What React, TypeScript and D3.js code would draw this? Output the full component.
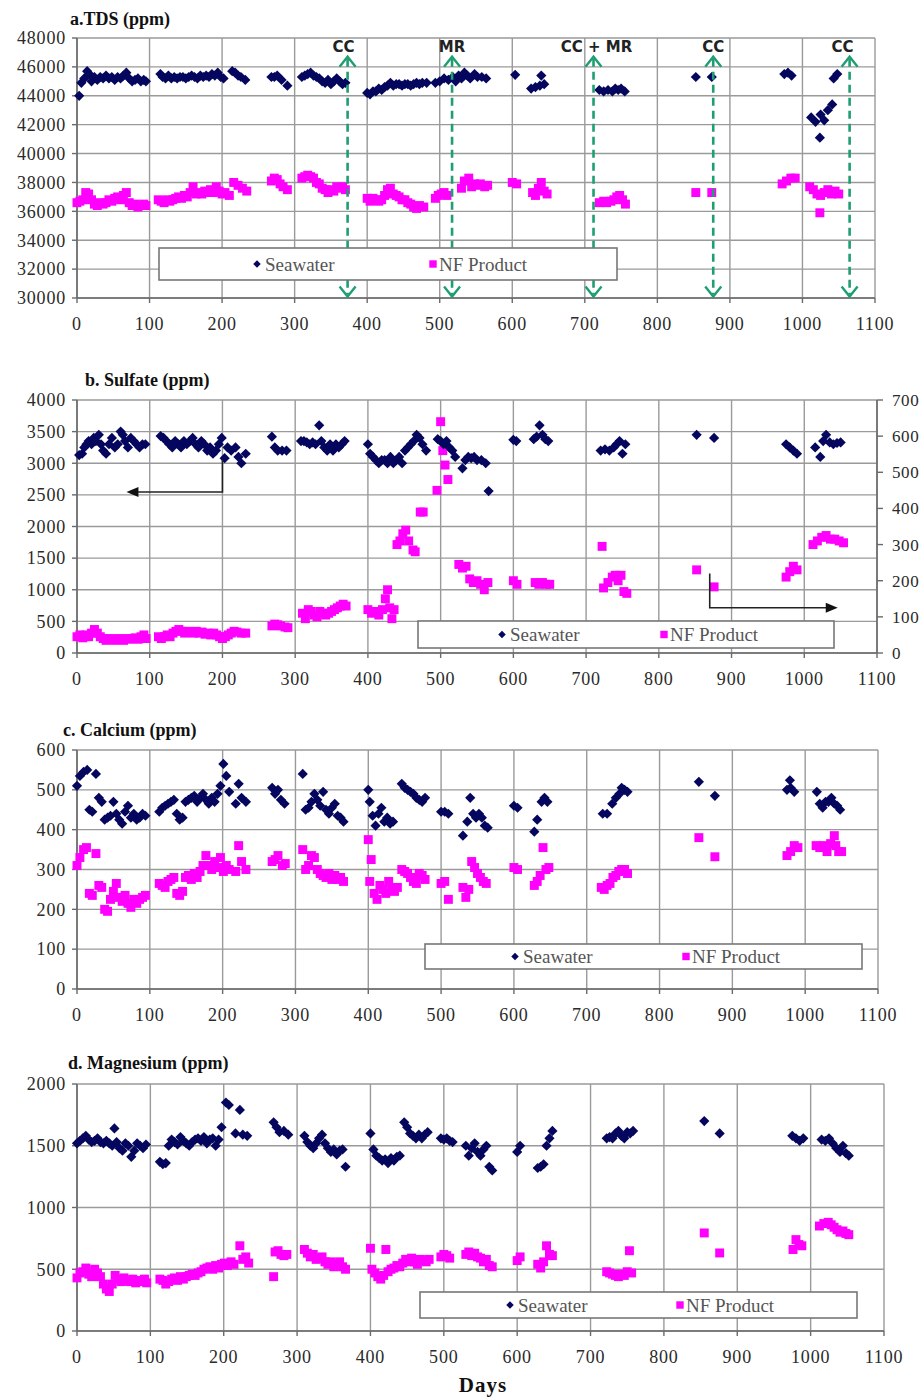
import React from "react";
import * as d3 from "d3";

// ---------- shared ----------
const dayTicks = [0, 100, 200, 300, 400, 500, 600, 700, 800, 900, 1000, 1100];
const seriesNames = ["Seawater", "NF Product"];

// ---------- a. TDS (ppm) ----------
const tdsSeawater: [number, number][] = [
  [3, 44000], [6, 44900], [10, 45200], [14, 45700], [17, 45500], [20, 45000], [24, 45300], [28, 45100],
  [32, 45300], [36, 45200], [40, 45400], [44, 45200], [48, 45300], [52, 45100], [56, 45300], [60, 45200],
  [64, 45400], [68, 45600], [72, 45200], [76, 45000], [80, 45100], [84, 45200], [88, 45000], [92, 45100], [95, 45000],
  [115, 45500], [118, 45300], [122, 45200], [126, 45400], [130, 45200], [134, 45300], [138, 45200], [142, 45300],
  [146, 45300], [150, 45200], [154, 45300], [158, 45400], [162, 45300], [166, 45200], [170, 45400], [174, 45300],
  [178, 45400], [182, 45300], [186, 45500], [190, 45400], [194, 45600], [198, 45300], [202, 45200], [214, 45700],
  [218, 45600], [222, 45400], [226, 45300], [232, 45100],
  [268, 45300], [272, 45300], [276, 45400], [282, 45100], [290, 44700],
  [310, 45300], [314, 45400], [318, 45500], [322, 45600], [326, 45400], [330, 45300], [334, 45200], [338, 45000],
  [342, 44900], [346, 45100], [350, 44800], [354, 45000], [358, 45200], [362, 45000], [366, 44800], [370, 44900],
  [400, 44200], [404, 44100], [408, 44300], [412, 44300], [416, 44500], [420, 44400], [424, 44600], [428, 44700],
  [432, 44900], [436, 44700], [440, 44800], [444, 44800], [448, 44700], [452, 44800], [456, 44800], [460, 44700],
  [464, 44800], [468, 44900], [472, 44800], [476, 44900], [482, 44900],
  [494, 44900], [500, 45000], [506, 45200], [512, 45100], [518, 45300], [522, 45000], [526, 45400], [530, 45200],
  [534, 45600], [538, 45400], [542, 45200], [548, 45500], [552, 45300], [558, 45300], [564, 45200],
  [604, 45450], [626, 44500], [632, 44600], [638, 44700], [644, 44800], [640, 45400],
  [720, 44400], [726, 44300], [732, 44400], [738, 44300], [742, 44500], [746, 44400], [750, 44500], [755, 44300],
  [853, 45300], [875, 45300],
  [975, 45500], [980, 45600], [985, 45400],
  [1012, 42500], [1018, 42200], [1024, 41100], [1025, 42700], [1030, 42300], [1035, 43000], [1041, 43400],
  [1043, 45200], [1048, 45500],
];
const tdsProduct: [number, number][] = [
  [0, 36600], [4, 36700], [8, 36800], [12, 37300], [16, 37200], [20, 36800], [24, 36500], [28, 36400],
  [32, 36600], [36, 36500], [40, 36600], [44, 36800], [48, 36700], [52, 36900], [56, 37000], [60, 36800],
  [64, 37100], [68, 37300], [72, 36600], [76, 36400], [80, 36500], [84, 36300], [88, 36400], [92, 36500], [95, 36400],
  [112, 36800], [116, 36700], [120, 36600], [124, 36800], [128, 36700], [132, 36800], [136, 36900], [140, 37000],
  [144, 36900], [148, 37100], [152, 37000], [156, 37300], [160, 37700], [164, 37200], [168, 37300], [172, 37200],
  [176, 37400], [180, 37300], [184, 37500], [188, 37300], [192, 37700], [196, 37400], [200, 37200], [204, 37300],
  [210, 37100], [216, 38000], [222, 37800], [228, 37600], [234, 37400],
  [268, 38100], [272, 38300], [276, 38200], [280, 37900], [284, 37700], [290, 37500],
  [310, 38300], [314, 38400], [318, 38500], [322, 38400], [326, 38300], [330, 38000], [334, 37900], [338, 37600],
  [342, 37500], [346, 37300], [350, 37500], [354, 37400], [358, 37700], [362, 37600], [366, 37700], [370, 37500],
  [400, 36900], [404, 36700], [408, 36900], [412, 36800], [416, 36700], [420, 36800], [424, 37100], [428, 37500],
  [432, 37600], [436, 37200], [440, 37100], [444, 37000], [448, 36800], [452, 36800], [456, 36600], [460, 36500],
  [464, 36300], [468, 36200], [472, 36400], [478, 36300],
  [494, 36900], [498, 37100], [502, 37200], [506, 37300], [510, 37100],
  [530, 37600], [534, 38100], [540, 38300], [544, 37700], [548, 37900], [552, 37800], [556, 37900], [562, 37700], [566, 37800],
  [600, 38000], [606, 37900],
  [628, 37300], [632, 37100], [636, 37600], [640, 38000], [644, 37400], [648, 37200],
  [720, 36600], [726, 36700], [730, 36600], [736, 36700], [740, 36800], [744, 37000], [748, 37100], [752, 36800], [756, 36500],
  [853, 37300], [875, 37300],
  [972, 37900], [978, 38100], [984, 38300], [990, 38300],
  [1010, 37700], [1015, 37500], [1020, 37200], [1024, 35900], [1025, 37100], [1030, 37300], [1035, 37500],
  [1040, 37200], [1045, 37400], [1050, 37200],
];
const tdsEventDays = [373, 517, 712, 877, 1065];
const tdsEventLabels = ["CC", "MR", "CC + MR", "CC", "CC"];

// ---------- b. Sulfate (ppm) ----------
const so4Seawater: [number, number][] = [
  [3, 3130], [7, 3150], [10, 3250], [13, 3300], [16, 3350], [20, 3300], [23, 3400], [26, 3350], [30, 3450],
  [33, 3300], [36, 3200], [40, 3150], [44, 3300], [48, 3400], [52, 3250], [56, 3300], [60, 3500], [63, 3450],
  [66, 3350], [70, 3250], [74, 3400], [78, 3350], [82, 3300], [86, 3250], [90, 3300], [94, 3300],
  [115, 3430], [119, 3400], [123, 3350], [127, 3300], [131, 3250], [135, 3350], [139, 3300], [143, 3250],
  [147, 3350], [151, 3300], [155, 3350], [159, 3400], [163, 3300], [167, 3250], [171, 3350], [175, 3300],
  [179, 3200], [183, 3250], [187, 3150], [191, 3200], [195, 3300], [199, 3400], [203, 3080], [207, 3250],
  [212, 3200], [218, 3250], [222, 3100], [226, 3000], [232, 3150],
  [268, 3420], [272, 3250], [276, 3200], [282, 3200], [288, 3200],
  [308, 3350], [312, 3350], [316, 3330], [320, 3300], [324, 3330], [328, 3300], [333, 3600], [336, 3350],
  [340, 3250], [344, 3200], [348, 3300], [352, 3200], [356, 3300], [360, 3250], [364, 3300], [368, 3350],
  [400, 3300], [403, 3150], [407, 3100], [411, 3050], [415, 3000], [419, 3050], [423, 3050], [427, 3000],
  [431, 3100], [435, 3000], [439, 3050], [443, 3100], [447, 3000], [451, 3200], [455, 3250], [459, 3300],
  [463, 3350], [467, 3450], [471, 3400], [475, 3300], [480, 3200],
  [496, 3380], [500, 3350], [504, 3300], [508, 3350], [512, 3250], [516, 3200], [520, 3100], [530, 2920],
  [534, 3050], [538, 3100], [542, 3080], [546, 3100], [550, 3050], [556, 3050], [562, 3000], [566, 2560],
  [600, 3370], [604, 3350],
  [628, 3380], [632, 3420], [636, 3600], [640, 3450], [644, 3380], [648, 3350],
  [720, 3200], [726, 3220], [732, 3200], [738, 3250], [742, 3300], [746, 3350], [750, 3150], [754, 3300],
  [852, 3450], [876, 3400],
  [975, 3300], [980, 3250], [985, 3200], [990, 3150],
  [1015, 3250], [1022, 3100], [1026, 3350], [1030, 3450], [1035, 3330], [1040, 3300], [1045, 3320], [1050, 3330],
];
// NF product sulfate is read on the secondary (right) axis, 0-700 ppm
const so4Product: [number, number][] = [
  [0, 45], [4, 50], [8, 42], [12, 50], [16, 45], [20, 55], [24, 65], [28, 55], [32, 45], [36, 40], [40, 35],
  [44, 40], [48, 38], [52, 35], [56, 40], [60, 38], [64, 35], [68, 40], [72, 38], [76, 40], [80, 42], [84, 38],
  [88, 45], [92, 50], [95, 40],
  [112, 45], [116, 40], [120, 45], [124, 50], [128, 45], [132, 55], [136, 60], [140, 65], [144, 60], [148, 55],
  [152, 60], [156, 58], [160, 55], [164, 60], [168, 55], [172, 58], [176, 52], [180, 55], [184, 50], [188, 55],
  [192, 50], [196, 45], [200, 40], [204, 45], [208, 50], [212, 55], [216, 60], [220, 58], [226, 55], [232, 55],
  [268, 75], [272, 80], [276, 78], [280, 75], [286, 72], [290, 70],
  [310, 110], [314, 95], [318, 120], [322, 115], [326, 105], [330, 100], [334, 115], [338, 110], [342, 105],
  [346, 110], [350, 115], [354, 120], [358, 125], [362, 130], [366, 135], [370, 130],
  [400, 120], [405, 110], [410, 115], [415, 105], [420, 120], [424, 150], [427, 175], [430, 125], [433, 95],
  [436, 120], [440, 300], [444, 310], [448, 330], [452, 340], [456, 310], [462, 285], [465, 280], [472, 390], [476, 390],
  [495, 450], [500, 640], [503, 560], [506, 520], [510, 480],
  [525, 245], [530, 235], [535, 240], [540, 205], [545, 195], [550, 200], [555, 190], [560, 175], [565, 195],
  [600, 200], [605, 190],
  [630, 195], [635, 190], [640, 195], [645, 190], [650, 190],
  [722, 295], [724, 180], [730, 195], [736, 210], [740, 215], [744, 200], [748, 215], [752, 170], [756, 165],
  [852, 230], [876, 183],
  [975, 210], [980, 225], [985, 240], [990, 230],
  [1012, 300], [1018, 310], [1024, 320], [1030, 325], [1036, 315], [1042, 315], [1048, 310], [1054, 305],
];

// ---------- c. Calcium (ppm) ----------
const caSeawater: [number, number][] = [
  [0, 510], [4, 535], [9, 545], [14, 550], [17, 450], [21, 445], [26, 540], [30, 480], [34, 470], [38, 425],
  [42, 430], [46, 435], [50, 470], [54, 440], [58, 425], [62, 415], [66, 445], [70, 460], [74, 430], [78, 440],
  [82, 425], [86, 430], [90, 440], [94, 435],
  [113, 445], [117, 455], [121, 460], [125, 465], [129, 470], [133, 475], [137, 440], [141, 425], [145, 430],
  [149, 470], [153, 475], [157, 480], [161, 485], [165, 470], [169, 480], [173, 490], [177, 475], [181, 465],
  [185, 480], [189, 470], [193, 490], [197, 510], [201, 565], [205, 535], [209, 495], [218, 465], [222, 515],
  [226, 480], [232, 470],
  [268, 505], [272, 490], [276, 500], [280, 475], [285, 465],
  [310, 540], [314, 450], [318, 455], [322, 470], [326, 490], [330, 475], [334, 460], [338, 495], [342, 450],
  [346, 440], [350, 455], [354, 465], [358, 435], [362, 430], [366, 420],
  [400, 500], [402, 470], [406, 435], [410, 410], [414, 440], [418, 455], [422, 420], [426, 430], [430, 415],
  [434, 420], [446, 515], [450, 505], [454, 500], [458, 495], [462, 490], [466, 480], [470, 475], [474, 470], [478, 480],
  [500, 445], [505, 445], [510, 440], [530, 385], [536, 420], [540, 480], [544, 440], [548, 430], [552, 440],
  [556, 430], [560, 410], [564, 405],
  [600, 460], [605, 455], [628, 395], [632, 425], [638, 470], [642, 480], [646, 470],
  [722, 440], [728, 440], [735, 465], [740, 480], [745, 490], [748, 505], [752, 500], [756, 495],
  [854, 520], [876, 485],
  [975, 500], [979, 524], [980, 505], [985, 495],
  [1016, 495], [1020, 465], [1024, 455], [1028, 470], [1032, 470], [1036, 480], [1040, 465], [1044, 460], [1048, 450],
];
const caProduct: [number, number][] = [
  [0, 310], [4, 330], [9, 350], [13, 355], [17, 240], [21, 235], [26, 340], [30, 260], [34, 255], [38, 200],
  [42, 195], [46, 225], [50, 245], [54, 265], [58, 230], [62, 220], [66, 235], [70, 215], [74, 205], [78, 225],
  [82, 215], [86, 225], [90, 230], [94, 235],
  [113, 265], [117, 260], [121, 255], [125, 270], [129, 275], [133, 280], [137, 240], [141, 235], [145, 245],
  [149, 280], [153, 285], [157, 275], [161, 290], [165, 280], [169, 295], [173, 310], [177, 335], [181, 310],
  [185, 300], [189, 320], [193, 305], [197, 330], [201, 295], [205, 310], [209, 300], [218, 295], [222, 360],
  [226, 320], [232, 300],
  [268, 320], [272, 325], [276, 335], [282, 310], [286, 315],
  [310, 350], [314, 300], [318, 310], [322, 335], [326, 330], [330, 300], [334, 290], [338, 285], [342, 280],
  [346, 290], [350, 275], [354, 285], [358, 275], [362, 280], [366, 270],
  [400, 375], [402, 270], [404, 325], [408, 240], [412, 225], [416, 260], [420, 250], [424, 240], [428, 270],
  [432, 250], [436, 245], [440, 255], [446, 300], [450, 295], [454, 290], [458, 280], [462, 270], [466, 265],
  [470, 290], [474, 285], [478, 275],
  [500, 265], [505, 270], [510, 225], [530, 255], [534, 230], [538, 250], [542, 320], [546, 305], [550, 290],
  [554, 280], [558, 270], [562, 265],
  [600, 305], [605, 300], [628, 260], [632, 270], [636, 285], [640, 355], [644, 300], [648, 305],
  [720, 255], [724, 250], [728, 260], [732, 265], [736, 280], [740, 285], [744, 295], [748, 300], [752, 300], [756, 290],
  [854, 380], [876, 332],
  [975, 335], [980, 345], [985, 360], [990, 355],
  [1015, 360], [1020, 355], [1025, 360], [1030, 345], [1035, 365], [1040, 385], [1042, 360], [1046, 345], [1050, 345],
];

// ---------- d. Magnesium (ppm) ----------
const mgSeawater: [number, number][] = [
  [0, 1520], [4, 1540], [8, 1560], [12, 1580], [16, 1550], [20, 1530], [24, 1540], [28, 1560], [32, 1530],
  [36, 1520], [40, 1540], [44, 1520], [48, 1500], [51, 1640], [54, 1530], [58, 1480], [62, 1460], [66, 1520],
  [70, 1500], [74, 1410], [78, 1460], [82, 1520], [86, 1500], [90, 1480], [94, 1510],
  [113, 1370], [117, 1350], [121, 1360], [125, 1500], [129, 1550], [133, 1530], [137, 1510], [141, 1570],
  [145, 1540], [149, 1520], [153, 1500], [157, 1530], [161, 1550], [165, 1560], [169, 1540], [173, 1570],
  [177, 1520], [181, 1550], [185, 1560], [189, 1500], [193, 1550], [197, 1650], [203, 1850], [207, 1830],
  [216, 1600], [222, 1790], [226, 1590], [232, 1580],
  [268, 1690], [272, 1650], [276, 1610], [282, 1620], [288, 1590],
  [310, 1580], [314, 1530], [318, 1500], [322, 1480], [326, 1520], [330, 1560], [334, 1590], [338, 1520],
  [342, 1480], [346, 1450], [350, 1470], [354, 1430], [358, 1460], [362, 1470], [366, 1330],
  [400, 1600], [404, 1470], [408, 1420], [412, 1400], [416, 1380], [420, 1390], [424, 1360], [428, 1400],
  [432, 1380], [436, 1410], [440, 1420], [446, 1690], [450, 1650], [454, 1600], [458, 1580], [462, 1560],
  [466, 1590], [470, 1560], [474, 1590], [478, 1610],
  [496, 1560], [500, 1550], [504, 1560], [508, 1540], [512, 1530], [530, 1500], [534, 1420], [538, 1480],
  [542, 1520], [546, 1450], [550, 1420], [554, 1470], [558, 1500], [562, 1330], [566, 1300],
  [600, 1450], [604, 1500],
  [628, 1320], [632, 1330], [636, 1350], [640, 1500], [644, 1560], [648, 1620],
  [722, 1560], [726, 1570], [730, 1560], [734, 1600], [738, 1620], [742, 1580], [746, 1560], [750, 1610],
  [754, 1600], [758, 1620],
  [855, 1700], [876, 1600],
  [975, 1580], [980, 1560], [985, 1540], [990, 1560],
  [1015, 1550], [1020, 1540], [1025, 1560], [1030, 1520], [1035, 1480], [1040, 1450], [1044, 1500], [1048, 1440], [1052, 1420],
];
const mgProduct: [number, number][] = [
  [0, 430], [4, 470], [8, 480], [12, 510], [16, 460], [20, 440], [24, 500], [28, 470], [32, 440], [36, 380],
  [40, 340], [44, 320], [48, 380], [52, 450], [56, 420], [60, 400], [64, 430], [68, 410], [72, 400], [76, 420],
  [80, 390], [84, 410], [88, 400], [92, 420], [95, 390],
  [113, 420], [117, 410], [121, 380], [125, 400], [129, 420], [133, 430], [137, 410], [141, 440], [145, 420],
  [149, 440], [153, 450], [157, 460], [161, 450], [165, 470], [169, 480], [173, 500], [177, 510], [181, 520],
  [185, 500], [189, 530], [193, 510], [197, 540], [201, 550], [205, 530], [210, 560], [214, 540], [222, 690],
  [226, 580], [230, 600], [234, 550],
  [268, 440], [270, 640], [274, 650], [278, 620], [282, 610], [286, 620],
  [310, 660], [314, 630], [318, 600], [322, 620], [326, 580], [330, 590], [334, 600], [338, 560], [342, 540],
  [346, 560], [350, 520], [354, 540], [358, 560], [362, 520], [366, 500],
  [400, 670], [402, 500], [406, 470], [410, 440], [414, 420], [418, 450], [421, 660], [424, 480], [428, 500],
  [432, 510], [436, 530], [440, 520], [444, 550], [448, 580], [452, 560], [456, 590], [460, 560], [464, 540],
  [468, 580], [472, 570], [476, 560], [480, 580],
  [496, 600], [500, 620], [504, 610], [508, 590], [530, 620], [534, 640], [538, 610], [542, 630], [546, 600],
  [550, 590], [554, 560], [558, 580], [562, 530], [566, 520],
  [600, 570], [604, 600],
  [628, 540], [632, 510], [636, 560], [640, 690], [644, 620], [648, 610],
  [722, 480], [726, 470], [730, 460], [734, 450], [738, 440], [742, 460], [746, 450], [750, 480], [753, 650], [756, 470],
  [855, 794], [876, 632],
  [976, 660], [980, 740], [984, 700], [988, 690],
  [1012, 850], [1018, 870], [1024, 880], [1028, 860], [1032, 840], [1036, 820], [1040, 800], [1044, 810],
  [1048, 790], [1052, 780],
];

// ---------- styles ----------
const SEA_COLOR = "#05065e";
const NF_COLOR = "#ff00ff";
const GRID = "#9a9a9a";
const AXIS = "#6a6a6a";
const TEAL = "#1f9e72";
const tickFont = "'Liberation Serif', 'Times New Roman', serif";
const titleFont = "'Liberation Serif', 'Times New Roman', serif";

const diamondPath = d3.symbol(d3.symbolSquare, 52)() as string;
const squarePath = d3.symbol(d3.symbolSquare, 80)() as string;
const legendDiamond = d3.symbol(d3.symbolSquare, 28)() as string;
const legendSquare = d3.symbol(d3.symbolSquare, 55)() as string;

type Cfg = {
  title: string;
  titleX: number;
  titleY: number;
  left: number;
  right: number;
  top: number;
  bottom: number;
  yDomain: [number, number];
  yStep: number;
  y2Domain?: [number, number];
  y2Step?: number;
  legend: { x: number; y: number; w: number; h: number; seaX: number; nfX: number };
};

function Panel({
  cfg,
  sea,
  nf,
  nfOnRight,
  extra,
}: {
  cfg: Cfg;
  sea: [number, number][];
  nf: [number, number][];
  nfOnRight?: boolean;
  extra?: (x: d3.ScaleLinear<number, number>, y: d3.ScaleLinear<number, number>, y2: d3.ScaleLinear<number, number> | null) => React.ReactNode;
}) {
  const x = d3.scaleLinear().domain([0, 1100]).range([cfg.left, cfg.right]);
  const y = d3.scaleLinear().domain(cfg.yDomain).range([cfg.bottom, cfg.top]);
  const y2 = cfg.y2Domain ? d3.scaleLinear().domain(cfg.y2Domain).range([cfg.bottom, cfg.top]) : null;
  const yTicks = d3.range(cfg.yDomain[0], cfg.yDomain[1] + 1, cfg.yStep);
  const y2Ticks = cfg.y2Domain && cfg.y2Step ? d3.range(cfg.y2Domain[0], cfg.y2Domain[1] + 1, cfg.y2Step) : [];
  const nfY = nfOnRight && y2 ? y2 : y;
  const lg = cfg.legend;
  return (
    <g>
      <text x={cfg.titleX} y={cfg.titleY} fontFamily={titleFont} fontWeight="bold" fontSize={18} fill="#111">
        {cfg.title}
      </text>
      {/* grid */}
      {yTicks.map((t) => (
        <line key={"h" + t} x1={cfg.left} x2={cfg.right} y1={y(t)} y2={y(t)} stroke={GRID} strokeWidth={1.4} />
      ))}
      {dayTicks.map((t) => (
        <line key={"v" + t} x1={x(t)} x2={x(t)} y1={cfg.top} y2={cfg.bottom} stroke={GRID} strokeWidth={1.4} />
      ))}
      {/* axes */}
      <line x1={cfg.left} x2={cfg.left} y1={cfg.top} y2={cfg.bottom} stroke={AXIS} strokeWidth={1.6} />
      <line x1={cfg.left} x2={cfg.right} y1={cfg.bottom} y2={cfg.bottom} stroke={AXIS} strokeWidth={1.6} />
      {yTicks.map((t) => (
        <g key={"yt" + t}>
          <line x1={cfg.left - 5} x2={cfg.left} y1={y(t)} y2={y(t)} stroke={AXIS} strokeWidth={1.4} />
          <text x={cfg.left - 11} y={y(t)} dy="0.35em" textAnchor="end" fontFamily={tickFont} fontSize={18} letterSpacing={0.8} fill="#2a2a2a">
            {t}
          </text>
        </g>
      ))}
      {dayTicks.map((t) => (
        <g key={"xt" + t}>
          <line x1={x(t)} x2={x(t)} y1={cfg.bottom} y2={cfg.bottom + 5} stroke={AXIS} strokeWidth={1.4} />
          <text x={x(t)} y={cfg.bottom + 32} textAnchor="middle" fontFamily={tickFont} fontSize={18} letterSpacing={0.8} fill="#2a2a2a">
            {t}
          </text>
        </g>
      ))}
      {y2 && (
        <g>
          <line x1={cfg.right} x2={cfg.right} y1={cfg.top} y2={cfg.bottom} stroke={AXIS} strokeWidth={1.6} />
          {y2Ticks.map((t) => (
            <g key={"y2t" + t}>
              <line x1={cfg.right} x2={cfg.right + 6} y1={y2(t)} y2={y2(t)} stroke={AXIS} strokeWidth={1.4} />
              <text x={cfg.right + 15} y={y2(t)} dy="0.35em" textAnchor="start" fontFamily={tickFont} fontSize={17} letterSpacing={0.6} fill="#2a2a2a">
                {t}
              </text>
            </g>
          ))}
        </g>
      )}
      {/* points */}
      {nf.map(([d, v], i) => (
        <path key={"n" + i} d={squarePath} transform={`translate(${x(d)},${nfY(v)})`} fill={NF_COLOR} />
      ))}
      {sea.map(([d, v], i) => (
        <path key={"s" + i} d={diamondPath} transform={`translate(${x(d)},${y(v)}) rotate(45)`} fill={SEA_COLOR} />
      ))}
      {extra && extra(x, y, y2)}
      {/* legend */}
      <rect x={lg.x} y={lg.y} width={lg.w} height={lg.h} fill="#fff" stroke="#777" strokeWidth={1.6} />
      <path d={legendDiamond} transform={`translate(${lg.seaX},${lg.y + lg.h / 2}) rotate(45)`} fill={SEA_COLOR} />
      <text x={lg.seaX + 8} y={lg.y + lg.h / 2} dy="0.35em" fontFamily={titleFont} fontSize={19} fill="#555">
        {seriesNames[0]}
      </text>
      <path d={legendSquare} transform={`translate(${lg.nfX},${lg.y + lg.h / 2})`} fill={NF_COLOR} />
      <text x={lg.nfX + 6} y={lg.y + lg.h / 2} dy="0.35em" fontFamily={titleFont} fontSize={19} fill="#555">
        {seriesNames[1]}
      </text>
    </g>
  );
}

const cfgA: Cfg = {
  title: "a.TDS (ppm)", titleX: 70, titleY: 25,
  left: 77, right: 875, top: 38, bottom: 298,
  yDomain: [30000, 48000], yStep: 2000,
  legend: { x: 159, y: 248, w: 458, h: 32, seaX: 257, nfX: 433 },
};
const cfgB: Cfg = {
  title: "b. Sulfate (ppm)", titleX: 85, titleY: 386,
  left: 77, right: 877, top: 400, bottom: 653,
  yDomain: [0, 4000], yStep: 500, y2Domain: [0, 700], y2Step: 100,
  legend: { x: 418, y: 621, w: 416, h: 27, seaX: 502, nfX: 664 },
};
const cfgC: Cfg = {
  title: "c. Calcium (ppm)", titleX: 63, titleY: 736,
  left: 77, right: 878, top: 750, bottom: 989,
  yDomain: [0, 600], yStep: 100,
  legend: { x: 425, y: 944, w: 437, h: 25, seaX: 515, nfX: 686 },
};
const cfgD: Cfg = {
  title: "d. Magnesium (ppm)", titleX: 68, titleY: 1069,
  left: 77, right: 884, top: 1084, bottom: 1331,
  yDomain: [0, 2000], yStep: 500,
  legend: { x: 420, y: 1292, w: 437, h: 26, seaX: 510, nfX: 680 },
};

function tdsEvents(x: d3.ScaleLinear<number, number>, y: d3.ScaleLinear<number, number>) {
  const topV = 46700;
  const botV = 30100;
  return tdsEventDays.map((d, i) => {
    const cx = x(d);
    const t = y(topV);
    const b = y(botV);
    return (
      <g key={"ev" + i}>
        <line x1={cx} x2={cx} y1={t + 2} y2={b - 2} stroke={TEAL} strokeWidth={2.6} strokeDasharray="8 5" />
        <polyline points={`${cx - 8},${t + 10} ${cx},${t} ${cx + 8},${t + 10}`} fill="none" stroke={TEAL} strokeWidth={2.4} />
        <polyline points={`${cx - 8},${b - 10} ${cx},${b} ${cx + 8},${b - 10}`} fill="none" stroke={TEAL} strokeWidth={2.4} />
        <text x={cx + (i === 0 ? -4 : i === 2 ? 3 : i === 4 ? -7 : 0)} y={y(topV) - 5} textAnchor="middle" fontFamily="'DejaVu Sans', sans-serif" fontWeight="bold" fontSize={15} fill="#222">
          {tdsEventLabels[i]}
        </text>
      </g>
    );
  });
}

function so4Arrows(x: d3.ScaleLinear<number, number>, y: d3.ScaleLinear<number, number>, y2: d3.ScaleLinear<number, number> | null) {
  const r = y2 as d3.ScaleLinear<number, number>;
  const lx = x(200), ltop = y(3050), lbot = y(2545), lend = x(68);
  const rx = x(870), rtop = r(220), rbot = r(125), rend = x(1046);
  return (
    <g stroke="#222" strokeWidth={1.6} fill="none">
      <polyline points={`${lx},${ltop} ${lx},${lbot} ${lend + 10},${lbot}`} />
      <path d={`M${lend},${lbot} l12,-5 l0,10 z`} fill="#111" stroke="none" />
      <polyline points={`${rx},${rtop} ${rx},${rbot} ${rend - 10},${rbot}`} />
      <path d={`M${rend},${rbot} l-12,-5 l0,10 z`} fill="#111" stroke="none" />
    </g>
  );
}

export default function App() {
  return (
    <svg width={923} height={1398} style={{ position: "absolute", left: 0, top: 0, background: "#fff" }}>
      <rect width={923} height={1398} fill="#fff" />
      <Panel cfg={cfgA} sea={tdsSeawater} nf={tdsProduct} extra={(x, y) => tdsEvents(x, y)} />
      <Panel cfg={cfgB} sea={so4Seawater} nf={so4Product} nfOnRight extra={so4Arrows} />
      <Panel cfg={cfgC} sea={caSeawater} nf={caProduct} />
      <Panel cfg={cfgD} sea={mgSeawater} nf={mgProduct} />
      <text x={483} y={1392} textAnchor="middle" fontFamily={titleFont} fontWeight="bold" fontSize={21} letterSpacing={1} fill="#111">
        Days
      </text>
    </svg>
  );
}
